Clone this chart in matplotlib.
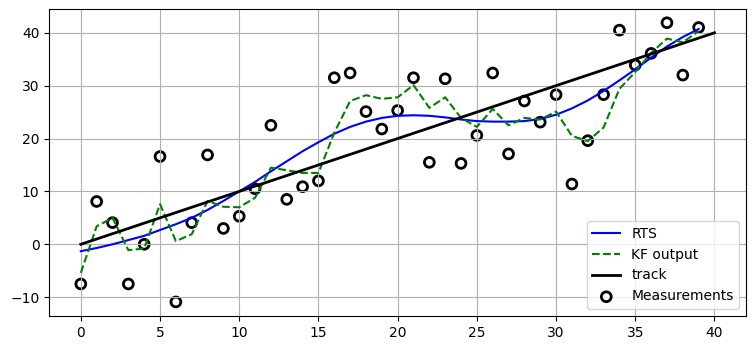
import numpy as np
import matplotlib
matplotlib.use("Agg")
import matplotlib.pyplot as plt

zs = [-7.5, 8.1, 4.1, -7.5, 0.0, 16.6, -10.9, 4.1, 16.9, 3.0,
      5.3, 10.5, 22.5, 8.5, 10.9, 12.0, 31.5, 32.4, 25.1, 21.8,
      25.3, 31.5, 15.5, 31.3, 15.3, 20.6, 32.4, 17.1, 27.1, 23.1,
      28.3, 11.4, 19.6, 28.3, 40.5, 33.9, 36.1, 41.9, 32.0, 41.0]

kf_out = [-5.4, 3.4, 5.0, -1.1, -0.8, 7.6, 0.6, 1.9, 8.2, 7.1,
          7.0, 8.8, 14.5, 14.0, 13.5, 13.5, 21.1, 27.1, 28.2, 27.5,
          27.8, 30.1, 25.8, 27.8, 23.9, 22.2, 25.6, 22.5, 23.9, 23.6,
          25.1, 20.5, 19.5, 22.1, 29.4, 32.6, 36.2, 38.9, 38.2, 40.3]

rts_out = [-1.3, -0.7, 0.0, 0.8, 1.6, 2.7, 3.8, 5.0, 6.5, 8.2,
           10.0, 11.8, 13.8, 15.7, 17.6, 19.3, 20.9, 22.2, 23.2, 23.9,
           24.3, 24.4, 24.3, 24.0, 23.6, 23.3, 23.2, 23.2, 23.3, 23.7,
           24.5, 25.7, 27.2, 29.0, 31.0, 33.1, 35.3, 37.4, 39.2, 40.7]

track_x = [0, 40]
track_y = [0, 40]

t = np.arange(len(zs))

fig, ax = plt.subplots(figsize=(7.56, 3.51), dpi=100)
fig.subplots_adjust(left=0.065, right=0.987, top=0.975, bottom=0.10)

ax.plot(t, rts_out, color="b", label="RTS")
ax.plot(t, kf_out, color="g", ls="--", label="KF output")
ax.plot(track_x, track_y, color="k", lw=2, label="track")
ax.scatter(t, zs, facecolor="none", edgecolor="k", lw=2, s=50, label="Measurements")

ax.grid(True)
ax.legend(loc="lower right")

fig.savefig("out.png")
